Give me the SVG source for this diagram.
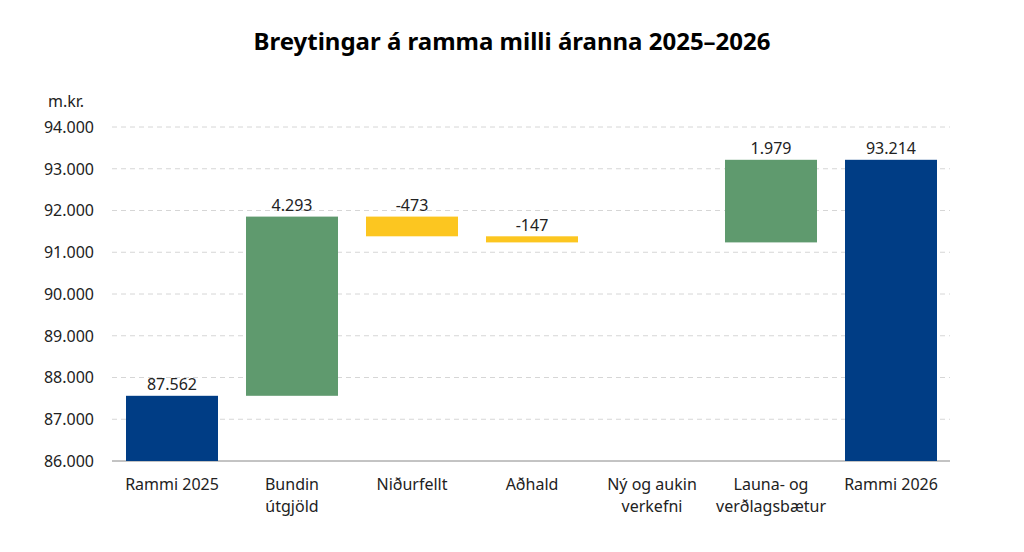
<svg xmlns="http://www.w3.org/2000/svg" width="1024" height="552" viewBox="0 0 1024 552">
<style>
text{font-family:"Noto Sans","Open Sans",sans-serif;fill:#222;font-size:16px}
.t{font-size:24px;font-weight:bold;fill:#000}
.y{text-anchor:end}
.c{text-anchor:middle}
.g{stroke:#d6d6d6;stroke-dasharray:5,4;stroke-width:1}
.blue{fill:#003d85}.green{fill:#5f9a6e}.yel{fill:#fcc620}
</style>
<rect width="1024" height="552" fill="#fff"/>
<text class="t c" x="512" y="50">Breytingar á ramma milli áranna 2025–2026</text>
<text x="48" y="107">m.kr.</text>
<g id="grid">
<line class="g" x1="112" x2="950" y1="127" y2="127"/>
<line class="g" x1="112" x2="950" y1="168.75" y2="168.75"/>
<line class="g" x1="112" x2="950" y1="210.5" y2="210.5"/>
<line class="g" x1="112" x2="950" y1="252.25" y2="252.25"/>
<line class="g" x1="112" x2="950" y1="294" y2="294"/>
<line class="g" x1="112" x2="950" y1="335.75" y2="335.75"/>
<line class="g" x1="112" x2="950" y1="377.5" y2="377.5"/>
<line class="g" x1="112" x2="950" y1="419.25" y2="419.25"/>
<line x1="112" x2="950" y1="461" y2="461" stroke="#888"/>
</g>
<g id="yaxis">
<text class="y" x="94" y="133">94.000</text>
<text class="y" x="94" y="175">93.000</text>
<text class="y" x="94" y="216">92.000</text>
<text class="y" x="94" y="258">91.000</text>
<text class="y" x="94" y="300">90.000</text>
<text class="y" x="94" y="342">89.000</text>
<text class="y" x="94" y="383">88.000</text>
<text class="y" x="94" y="425">87.000</text>
<text class="y" x="94" y="467">86.000</text>
</g>
<g id="bar1"><rect class="blue" x="126" y="395.8" width="92" height="65.2"/><text class="c" x="172" y="390">87.562</text><text class="c" x="172" y="490">Rammi 2025</text></g>
<g id="bar2"><rect class="green" x="246" y="216.6" width="92" height="179.2"/><text class="c" x="292" y="211">4.293</text><text class="c" x="292" y="490">Bundin</text><text class="c" x="292" y="512">útgjöld</text></g>
<g id="bar3"><rect class="yel" x="366" y="216.6" width="92" height="19.7"/><text class="c" x="412" y="211">-473</text><text class="c" x="412" y="490">Niðurfellt</text></g>
<g id="bar4"><rect class="yel" x="486" y="236.3" width="92" height="6.1"/><text class="c" x="532" y="231">-147</text><text class="c" x="532" y="490">Aðhald</text></g>
<g id="bar5"><text class="c" x="652" y="490">Ný og aukin</text><text class="c" x="652" y="512">verkefni</text></g>
<g id="bar6"><rect class="green" x="725" y="159.8" width="92" height="82.6"/><text class="c" x="771" y="154">1.979</text><text class="c" x="771" y="490">Launa- og</text><text class="c" x="771" y="512">verðlagsbætur</text></g>
<g id="bar7"><rect class="blue" x="845" y="159.8" width="92" height="301.2"/><text class="c" x="891" y="154">93.214</text><text class="c" x="891" y="490">Rammi 2026</text></g>
<g id="connectors"/>
</svg>
